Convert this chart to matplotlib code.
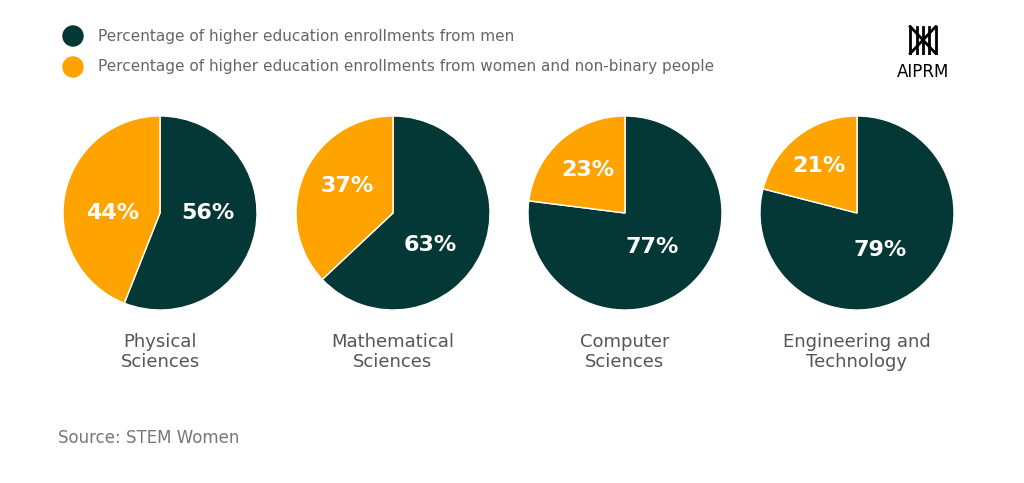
import matplotlib
matplotlib.use("Agg")
import matplotlib.pyplot as plt
import numpy as np

categories = ["Physical\nSciences", "Mathematical\nSciences", "Computer\nSciences", "Engineering and\nTechnology"]
men = [56, 63, 77, 79]
women = [44, 37, 23, 21]
legend_labels = ["Percentage of higher education enrollments from men",
                 "Percentage of higher education enrollments from women and non-binary people"]

DARK = "#033836"
ORANGE = "#FFA300"
W, H = 1024, 483
fig = plt.figure(figsize=(W/100, H/100), dpi=100)
fig.patch.set_facecolor("white")

# label placement (axes units, style only)
men_pos = [(0.49, 0.0), (0.38, -0.33), (0.28, -0.35), (0.24, -0.38)]
wom_pos = [(-0.49, 0.0), (-0.47, 0.28), (-0.38, 0.44), (-0.39, 0.48)]

centers = [160, 393, 625, 857]
cy, r = 213, 97
for cx, cat, m, w, mp, wp in zip(centers, categories, men, women, men_pos, wom_pos):
    ax = fig.add_axes([(cx-r)/W, 1-(cy+r)/H, 2*r/W, 2*r/H])
    ax.pie([m, w], colors=[DARK, ORANGE], startangle=90, counterclock=False,
           wedgeprops=dict(linewidth=1, edgecolor="white"))
    ax.set_xlim(-1, 1); ax.set_ylim(-1, 1)
    for pos, val in zip([mp, wp], [m, w]):
        ax.text(pos[0], pos[1], f"{val}%", ha="center", va="center",
                color="white", fontsize=16, fontweight="bold")
    fig.text(cx/W, 1-352/H, cat, ha="center", va="center", fontsize=13,
             color="#555555", linespacing=1.2)

for i, (lab, col) in enumerate(zip(legend_labels, [DARK, ORANGE])):
    y = 36 + i*31
    fig.patches.append(matplotlib.patches.Ellipse((73/W, 1-y/H), 20/W, 20/H,
                       transform=fig.transFigure, color=col))
    fig.text(98/W, 1-y/H, lab, ha="left", va="center", fontsize=11, color="#666666")

# logo
fig.text(923/W, 1-72/H, "AIPRM", ha="center", va="center", fontsize=12, color="black")
lax = fig.add_axes([907/W, 1-55/H, 32/W, 30/H])
lax.set_xlim(0, 1); lax.set_ylim(0, 1); lax.axis("off")
for xx in [0.1, 0.3, 0.5, 0.7, 0.9]:
    lax.plot([xx, xx], [0.05, 0.95], color="black", lw=2)
lax.plot([0.1, 0.9], [0.95, 0.05], color="black", lw=2)
lax.plot([0.1, 0.9], [0.05, 0.95], color="black", lw=2)

fig.text(58/W, 1-438/H, "Source: STEM Women", ha="left", va="center", fontsize=12, color="#777777")

fig.savefig("out.png", dpi=100, facecolor="white")
